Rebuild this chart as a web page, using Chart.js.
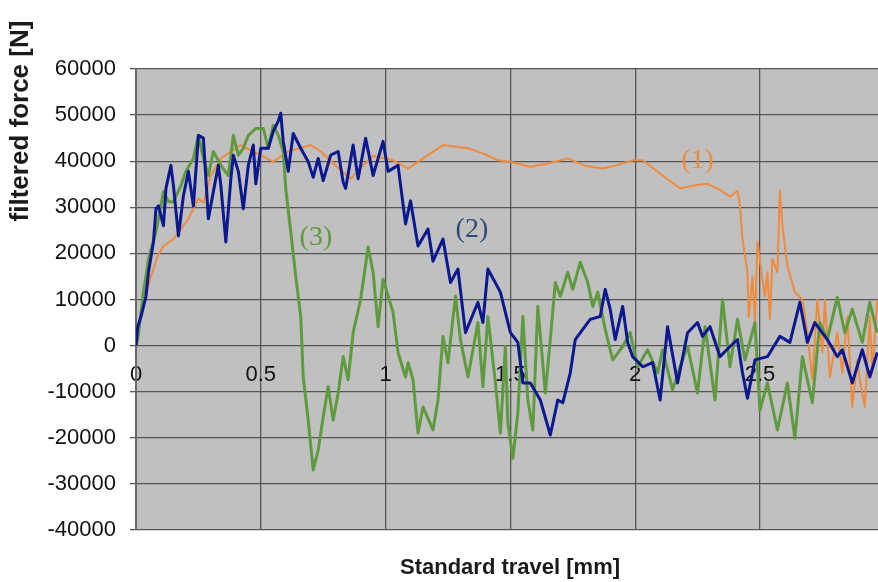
<!DOCTYPE html>
<html>
<head>
<meta charset="utf-8">
<script src="https://cdn.jsdelivr.net/npm/chart.js@4.4.1/dist/chart.umd.min.js"></script>
<style>
  html, body { margin: 0; padding: 0; background: #fff; }
  #wrap { width: 878px; height: 582px; }
</style>
</head>
<body>
<div id="wrap"><canvas id="forceChart"></canvas></div>
<script>
// series (1) - orange
const travel1 = [0, 0.007, 0.03, 0.06, 0.087, 0.11, 0.15, 0.21, 0.25, 0.27, 0.30, 0.34, 0.38, 0.42, 0.47, 0.55, 0.61, 0.70, 0.74, 0.80, 0.86, 0.90, 0.95, 1.03, 1.09, 1.15, 1.23, 1.33, 1.39, 1.45, 1.50, 1.58, 1.65, 1.73, 1.80, 1.87, 1.93, 1.99, 2.03, 2.11, 2.18, 2.24, 2.29, 2.34, 2.38, 2.41, 2.42, 2.43, 2.45, 2.455, 2.47, 2.48, 2.49, 2.51, 2.52, 2.53, 2.54, 2.55, 2.57, 2.58, 2.59, 2.61, 2.64, 2.67, 2.69, 2.71, 2.73, 2.75, 2.76, 2.78, 2.81, 2.83, 2.85, 2.87, 2.89, 2.90, 2.92, 2.94, 2.95, 2.97];
const force1 = [0, 2800, 9400, 15000, 19500, 21600, 23100, 27500, 31900, 31000, 36900, 40600, 42100, 43500, 42100, 39900, 42100, 43500, 42100, 39000, 36200, 38500, 41200, 40200, 38400, 40600, 43500, 42800, 41700, 40200, 39900, 38800, 39500, 40600, 39000, 38400, 39200, 40200, 40200, 36900, 34100, 34800, 35100, 33800, 32300, 33600, 30300, 23100, 15900, 6300, 15000, 5000, 22500, 14400, 10700, 15900, 5700, 18800, 15900, 33600, 26000, 17200, 11600, 10000, 2800, -7400, 10000, -1500, 10000, -6800, 2800, -5900, 6300, -13300, -3100, -7400, -13300, 6300, -5900, 10000];

// series (2) - dark blue
const travel2 = [0, 0.007, 0.02, 0.04, 0.05, 0.07, 0.08, 0.09, 0.11, 0.12, 0.14, 0.15, 0.17, 0.19, 0.21, 0.23, 0.25, 0.27, 0.29, 0.31, 0.33, 0.34, 0.36, 0.38, 0.39, 0.41, 0.43, 0.45, 0.47, 0.48, 0.50, 0.53, 0.55, 0.57, 0.58, 0.59, 0.61, 0.63, 0.66, 0.69, 0.71, 0.73, 0.75, 0.78, 0.81, 0.83, 0.84, 0.87, 0.89, 0.92, 0.95, 0.99, 1.01, 1.05, 1.08, 1.10, 1.13, 1.17, 1.19, 1.23, 1.26, 1.29, 1.32, 1.37, 1.39, 1.41, 1.46, 1.50, 1.53, 1.55, 1.58, 1.62, 1.66, 1.69, 1.71, 1.74, 1.76, 1.79, 1.82, 1.86, 1.88, 1.90, 1.92, 1.95, 1.97, 1.99, 2.03, 2.07, 2.10, 2.13, 2.17, 2.21, 2.25, 2.27, 2.30, 2.34, 2.38, 2.41, 2.43, 2.45, 2.48, 2.53, 2.58, 2.62, 2.66, 2.69, 2.72, 2.77, 2.81, 2.83, 2.87, 2.91, 2.94, 2.97];
const force2 = [0, 4100, 6300, 10700, 15900, 22500, 29700, 30300, 26000, 34100, 39100, 34700, 23800, 32500, 37800, 30300, 45600, 45000, 27500, 33400, 39100, 34700, 22500, 36200, 41300, 37800, 29700, 39100, 43500, 35100, 42800, 42800, 46500, 48700, 50400, 44300, 37800, 46000, 42800, 39900, 36500, 40600, 35800, 41300, 42100, 35500, 34100, 43500, 36200, 45000, 36900, 44300, 37800, 39100, 26400, 31400, 21600, 25300, 18300, 23100, 13700, 16600, 2800, 9400, 5000, 16600, 11600, 2800, 700, -8100, -8100, -11800, -19400, -11800, -12400, -5900, 1300, 3500, 5700, 6300, 12200, 7900, 1300, 8500, 700, -2400, -4600, -3700, -11800, 4100, -8100, 2800, 5000, 2000, 4100, -2400, -200, 1300, -5900, -11400, -3100, -2400, 2000, 700, 9400, 700, 5000, 1300, -2400, -900, -8100, -900, -6800, -1500];

// series (3) - green
const travel3 = [0, 0.007, 0.03, 0.05, 0.08, 0.10, 0.11, 0.13, 0.15, 0.18, 0.20, 0.23, 0.25, 0.27, 0.29, 0.31, 0.34, 0.37, 0.39, 0.41, 0.43, 0.45, 0.48, 0.51, 0.53, 0.55, 0.57, 0.59, 0.60, 0.62, 0.64, 0.66, 0.67, 0.69, 0.71, 0.73, 0.75, 0.77, 0.79, 0.81, 0.83, 0.85, 0.87, 0.90, 0.93, 0.95, 0.97, 0.99, 1.03, 1.05, 1.08, 1.09, 1.11, 1.13, 1.15, 1.19, 1.21, 1.23, 1.25, 1.28, 1.30, 1.33, 1.37, 1.39, 1.41, 1.44, 1.46, 1.48, 1.49, 1.51, 1.53, 1.55, 1.57, 1.59, 1.61, 1.64, 1.66, 1.68, 1.70, 1.73, 1.75, 1.78, 1.81, 1.83, 1.85, 1.88, 1.91, 1.95, 1.98, 2.01, 2.05, 2.09, 2.11, 2.15, 2.18, 2.21, 2.25, 2.28, 2.32, 2.35, 2.38, 2.41, 2.44, 2.48, 2.50, 2.53, 2.57, 2.61, 2.64, 2.67, 2.71, 2.74, 2.77, 2.81, 2.84, 2.87, 2.91, 2.94, 2.97];
const force3 = [0, 1300, 11600, 18800, 24700, 30300, 33400, 31200, 31200, 34700, 37800, 40600, 45600, 40600, 36900, 42100, 39100, 36900, 45600, 41300, 42800, 45600, 47100, 47100, 42800, 47800, 45600, 42100, 34100, 24700, 15000, 6300, -6800, -16200, -27000, -22700, -15500, -8900, -16200, -10300, -2400, -7400, 2800, 10000, 21400, 15900, 4100, 14400, 7200, -1500, -6800, -3700, -7400, -19000, -13300, -18300, -11800, 2000, -3700, 10700, 1300, -6800, 5000, -8900, 6300, -8100, -19000, -200, -16800, -24500, -14600, 6300, -11800, -18300, 8500, -10300, 1300, 13700, 10700, 15900, 12200, 18100, 13700, 8500, 11600, 3500, -3100, -200, 2800, -4600, -900, -5900, -900, -9600, -4600, -200, -10300, 4100, -11800, 10000, -4600, 5700, -3100, 5000, -14000, -8100, -18300, -8100, -20100, -2400, -12400, 5000, 1300, 10500, 2800, 7900, 700, 9400, 2800];

// curve labels placed in data coordinates
const curveLabels = ['(1)', '(2)', '(3)'];
const curveLabelX = [2.25, 1.346, 0.721];
const curveLabelY = [40200, 25200, 23500];
const curveLabelColors = ['#ef8a3c', '#2e4a78', '#5f9a3e'];

const toPoints = (xs, ys) => xs.map((x, i) => ({ x: x, y: ys[i] }));

const plotBackground = {
    id: 'plotBackground',
    beforeDraw(chart) {
        const { ctx, chartArea } = chart;
        ctx.save();
        ctx.fillStyle = '#c0c0c0';
        ctx.fillRect(chartArea.left, chartArea.top, chartArea.right - chartArea.left, chartArea.bottom - chartArea.top);
        ctx.restore();
    }
};

const textLayer = {
    id: 'textLayer',
    afterDatasetsDraw(chart) {
        const { ctx, scales } = chart;
        ctx.save();
        ctx.font = '28px "Liberation Serif", serif';
        ctx.textAlign = 'center';
        ctx.textBaseline = 'middle';
        curveLabels.forEach((t, i) => {
            ctx.fillStyle = curveLabelColors[i];
            ctx.fillText(t, scales.x.getPixelForValue(curveLabelX[i]), scales.y.getPixelForValue(curveLabelY[i]));
        });
        // axis titles
        ctx.fillStyle = '#1a1a1a';
        ctx.font = 'bold 22px "Liberation Sans", Arial, sans-serif';
        ctx.fillText('Standard travel [mm]', 510, 568);
        ctx.translate(21, 121);
        ctx.rotate(-Math.PI / 2);
        ctx.font = 'bold 26px "Liberation Sans", Arial, sans-serif';
        ctx.fillText('filtered force [N]', 0, 0);
        ctx.restore();
    }
};

const config = {
    type: 'scatter',
    data: {
        datasets: [{
            label: '(2)',
            data: toPoints(travel2, force2),
            borderColor: '#0b1890',
            borderWidth: 3,
        }, {
            label: '(3)',
            data: toPoints(travel3, force3),
            borderColor: '#5f9a3e',
            borderWidth: 3,
        }, {
            label: '(1)',
            data: toPoints(travel1, force1),
            borderColor: '#f08a3c',
            borderWidth: 2,
        }]
    },
    options: {
        responsive: true,
        maintainAspectRatio: false,
        animation: false,
        showLine: true,
        elements: {
            point: { radius: 0, hoverRadius: 0 },
            line: { tension: 0, borderJoinStyle: 'round' }
        },
        layout: {
            padding: { top: 69, bottom: 52, left: 0, right: 0 }
        },
        plugins: {
            legend: { display: false },
            tooltip: { enabled: false }
        },
        scales: {
            x: {
                type: 'linear',
                position: { y: 0 },
                min: 0,
                max: 2.973,
                grid: {
                    color: '#555',
                    lineWidth: 1.3,
                    drawTicks: false
                },
                border: { display: false },
                ticks: {
                    stepSize: 0.5,
                    includeBounds: false,
                    padding: 16,
                    color: '#111',
                    font: { family: '"Liberation Sans", Arial, sans-serif', size: 22 },
                    maxRotation: 0,
                    callback: (v) => String(v)
                }
            },
            y: {
                min: -40000,
                max: 60000,
                afterFit(scale) { scale.width = 136; },
                grid: {
                    color: '#555',
                    lineWidth: 1.3,
                    tickLength: 6
                },
                border: { color: '#6a6a6a', width: 2 },
                ticks: {
                    stepSize: 10000,
                    padding: 14,
                    color: '#111',
                    font: { family: '"Liberation Sans", Arial, sans-serif', size: 22 },
                    callback: (v) => String(v)
                }
            }
        }
    },
    plugins: [plotBackground, textLayer]
};

new Chart(document.getElementById('forceChart'), config);
</script>
</body>
</html>
